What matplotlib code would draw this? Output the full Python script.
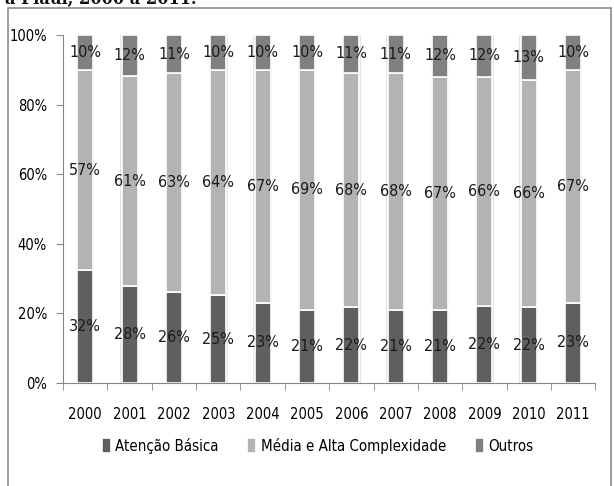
import numpy as np
import matplotlib
matplotlib.use('Agg')
import matplotlib.pyplot as plt
from matplotlib.patches import Rectangle

years = ['2000', '2001', '2002', '2003', '2004', '2005', '2006', '2007', '2008', '2009', '2010', '2011']
atencao = [32, 28, 26, 25, 23, 21, 22, 21, 21, 22, 22, 23]
media = [57, 61, 63, 64, 67, 69, 68, 68, 67, 66, 66, 67]
outros = [10, 12, 11, 10, 10, 10, 11, 11, 12, 12, 13, 10]
series_names = ['Atenção Básica', 'Média e Alta Complexidade', 'Outros']
colors = ['#5f5f5f', '#b3b3b3', '#808080']

plt.rcParams['font.family'] = ['DejaVu Sans']
plt.rcParams['font.stretch'] = 'condensed'

fig = plt.figure(figsize=(6.14, 4.86), dpi=100)
ax = fig.add_axes([0.1026, 0.212, 0.867, 0.716])

# chart frame and cut title line
fig.patches.append(Rectangle((8 / 614, -0.1), 603 / 614, 1.1 - 8 / 486, transform=fig.transFigure,
                             fill=False, edgecolor='#8c8c8c', linewidth=1.2))
fig.text(5 / 614, 1.002, 'a Piauí, 2000 a 2011.', family='DejaVu Serif', fontweight='bold',
         fontsize=13, va='center', ha='left', color='#111111')

data = np.array([atencao, media, outros], dtype=float)
frac = data / data.sum(axis=0)
x = np.arange(len(years))
w = 0.36

# soft outline behind each bar
ax.bar(x, np.ones(len(x)), width=w + 0.06, color='#e4e4e4', zorder=1)
bottom = np.zeros(len(x))
for i in range(3):
    ax.bar(x, frac[i], width=w, bottom=bottom, color=colors[i], edgecolor='white',
           linewidth=1.2, label=series_names[i], zorder=2)
    for j in range(len(x)):
        ax.text(x[j], bottom[j] + frac[i][j] / 2, f'{int(data[i][j])}%', ha='center', va='center',
                fontsize=11.5, color='#1a1a1a', zorder=3)
    bottom += frac[i]

ax.set_xlim(-0.5, len(x) - 0.5)
ax.set_ylim(0, 1)
ax.set_yticks(np.linspace(0, 1, 6))
ax.set_yticklabels([f'{int(v)}%' for v in np.linspace(0, 100, 6)], fontsize=10.5)
ax.set_xticks(x)
ax.set_xticklabels(years, fontsize=10.5)
ax.set_xticks(np.arange(-0.5, len(x), 1), minor=True)
ax.tick_params(axis='x', which='major', length=0, pad=17)
ax.tick_params(axis='x', which='minor', length=5, color='#868686')
ax.tick_params(axis='y', length=5, color='#868686', pad=6.5)
for s in ['top', 'right']:
    ax.spines[s].set_visible(False)
for s in ['left', 'bottom']:
    ax.spines[s].set_color('#868686')

ax.legend(loc='center', bbox_to_anchor=(0.478, -0.18), ncol=3, frameon=False, fontsize=10.8,
          handlelength=0.6, handleheight=1.1, handletextpad=0.3, columnspacing=1.9)

fig.savefig('out.png', dpi=100)
